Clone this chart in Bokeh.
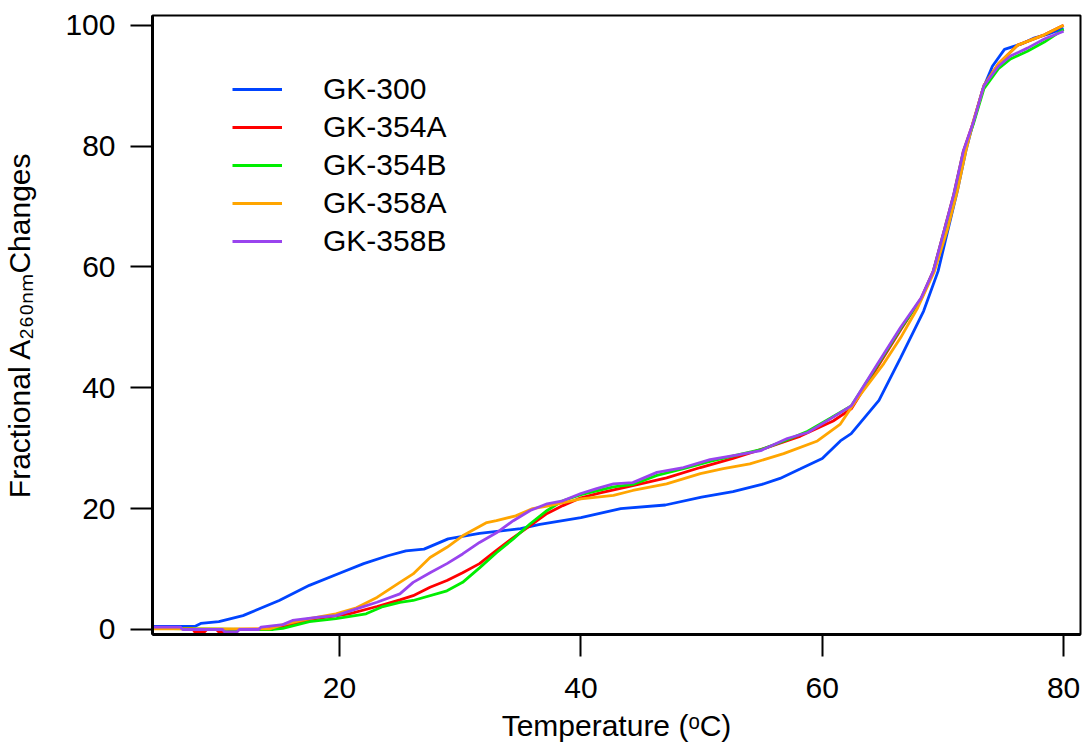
from bokeh.plotting import figure
from bokeh.models import Range1d, Legend, LegendItem, FixedTicker
from bokeh.embed import file_html
from bokeh.resources import INLINE

# ---------------- data ----------------
series_names = ["GK-300", "GK-354A", "GK-354B", "GK-358A", "GK-358B"]
series_colors = ["#0044ff", "#ff0000", "#00ee00", "#ffa500", "#9944ee"]

gk300_t = [4.6, 8.0, 8.5, 10, 12, 15, 17.5, 20, 22, 24, 25.5, 27, 29, 31.6, 35, 36.6,
           40, 43.3, 47, 50, 52.6, 55, 56.5, 58.2, 60, 61.5, 62.4, 64.7, 66.5, 68.4,
           69.6, 70.4, 71.2, 71.9, 72.5, 73.3, 74.1, 75.1, 76.5, 77.6, 78.7, 80]
gk300_v = [0.5, 0.5, 1.0, 1.3, 2.3, 4.8, 7.3, 9.3, 10.9, 12.2, 13.0, 13.3, 15.0, 15.9, 16.7, 17.4,
           18.5, 20.0, 20.6, 21.9, 22.8, 24.0, 25.0, 26.6, 28.3, 31.2, 32.4, 37.9, 45.0, 52.7,
           59.3, 66.0, 72.6, 79.2, 83.8, 89.4, 93.2, 96.0, 96.9, 97.9, 98.5, 99.5]

gk354a_t = [4.6, 7.8, 8.0, 8.8, 9.0, 9.8, 10.0, 10.8, 11.0, 14.0, 15.3, 18.1, 20.8, 23.1, 25,
            26.1, 27.5, 28.9, 30.2, 31.6, 33, 34.4, 35.8, 37.2, 38.5, 40, 41.6, 44.3, 47.1,
            49.9, 52.6, 55.4, 58.2, 60.9, 62.4, 64.6, 66.5, 68.2, 69.2, 70.1, 70.9, 71.7,
            72.5, 73.4, 74.6, 76.2, 78.4, 80]
gk354a_v = [0.2, 0.2, -0.4, -0.4, 0.0, 0.0, -0.4, -0.4, 0.0, 0.1, 0.5, 1.8, 2.6, 3.8, 4.9,
            5.6, 7.0, 8.1, 9.4, 10.9, 13.1, 15.2, 17.2, 19.2, 20.5, 21.8, 22.6, 23.8, 25.1,
            26.8, 28.3, 30.1, 32.0, 34.5, 36.5, 43.5, 49.6, 54.8, 59.3, 66.0, 72.0, 79.2,
            83.8, 90.0, 93.6, 96.7, 98.4, 100.0]

gk354b_t = [4.6, 12, 14.5, 15.3, 17.5, 19.7, 22.2, 23.6, 25, 26.1, 28.9, 30.2, 31.6, 33,
            34.4, 35.8, 37.2, 38.5, 40, 42.7, 44.3, 46.3, 48.5, 50.7, 53, 55, 57.1, 58.8,
            60.7, 62.4, 64.6, 66.5, 68.2, 69.2, 70.1, 70.9, 71.7, 72.5, 73.4, 74.6, 75.6,
            77, 78.4, 80]
gk354b_v = [0.2, 0.0, 0.0, 0.2, 1.3, 1.8, 2.6, 3.8, 4.5, 4.8, 6.4, 7.8, 10.2, 12.7,
            15.0, 17.5, 19.7, 21.3, 22.3, 23.6, 24.0, 25.5, 26.6, 27.8, 28.9, 29.8, 31.4, 32.8,
            35.0, 37.0, 43.8, 49.8, 54.7, 59.2, 65.8, 71.8, 79.0, 83.5, 89.5, 92.8, 94.4,
            95.7, 97.2, 99.3]

gk358a_t = [4.6, 14.2, 15.3, 17.5, 19.7, 21.4, 23.1, 25, 26.1, 27.5, 28.9, 30.2, 32.2, 33,
            34.6, 36.0, 37.2, 40, 42.7, 44.3, 47.1, 49.9, 51.8, 54, 56.8, 59.6, 61.5, 62.9,
            65.1, 66.5, 67.9, 69.3, 70.4, 71.2, 71.9, 72.5, 73.4, 74.6, 76.2, 78.4, 80]
gk358a_v = [0.1, 0.1, 0.8, 1.8, 2.6, 3.6, 5.3, 7.8, 9.2, 11.9, 13.6, 15.5, 17.7, 18.0,
            18.8, 20.0, 20.4, 21.6, 22.2, 23.0, 24.1, 25.8, 26.6, 27.4, 29.1, 31.2, 34.0, 38.2,
            44.0, 48.3, 53.2, 59.3, 66.4, 72.6, 79.2, 84.0, 90.0, 93.6, 96.7, 98.4, 100.0]

gk358b_t = [4.6, 6.8, 7.0, 10.3, 10.5, 11.5, 11.7, 13.3, 13.5, 15.3, 16.1, 18.1, 19.7, 21.4,
            23.1, 25, 26.1, 27.5, 28.9, 30.2, 31.6, 33, 34.4, 35.8, 37.2, 38.5, 40, 41.3,
            42.7, 44.3, 46.3, 48.5, 50.7, 53, 54.9, 57.1, 58.8, 60.7, 62.4, 64.6, 66.5, 68.2,
            69.2, 70.1, 70.9, 71.7, 72.5, 73.4, 74.6, 75.6, 77, 78.4, 80]
gk358b_v = [0.4, 0.4, 0.0, 0.0, -0.4, -0.4, 0.0, 0.0, 0.4, 0.8, 1.5, 2.0, 2.3, 3.4,
            4.5, 5.9, 7.8, 9.4, 10.9, 12.5, 14.4, 16.0, 18.0, 19.7, 20.8, 21.3, 22.5, 23.3,
            24.1, 24.3, 26.0, 26.8, 28.1, 28.9, 29.6, 31.6, 32.6, 34.9, 37.0, 44.0, 50.0, 54.9,
            59.3, 66.0, 72.0, 79.2, 83.8, 90.0, 93.2, 94.9, 96.2, 97.7, 99.0]

x_ticks = [20, 40, 60, 80]
y_ticks = [0, 20, 40, 60, 80, 100]
x_title = "Temperature (\u1d52C)"
y_title = "Fractional A\u2082\u2086\u2080\u2099\u2098Changes"

series_t = [gk300_t, gk354a_t, gk354b_t, gk358a_t, gk358b_t]
series_v = [gk300_v, gk354a_v, gk354b_v, gk358a_v, gk358b_v]

# ---------------- layout ----------------
X0, X1 = 4.5, 81.4
Y0, Y1 = -0.83, 101.6
FONT = "Liberation Sans"

p = figure(frame_width=928, frame_height=619,
           min_border_left=152, min_border_top=15, min_border_right=4, min_border_bottom=117,
           x_range=Range1d(X0, X1), y_range=Range1d(Y0, Y1),
           output_backend="svg", toolbar_location=None)
p.background_fill_color = "white"
p.border_fill_color = "white"
p.outline_line_color = "black"
p.outline_line_width = 2
p.xgrid.visible = False
p.ygrid.visible = False

for ax in (p.xaxis[0], p.yaxis[0]):
    ax.axis_line_width = 3
    ax.axis_line_color = "black"
    ax.major_tick_line_width = 2
    ax.major_tick_line_color = "black"
    ax.major_tick_in = 0
    ax.major_tick_out = 22
    ax.minor_tick_line_color = None
    ax.major_label_text_font = FONT
    ax.major_label_text_font_size = "30px"
    ax.major_label_text_color = "black"
    ax.axis_label_text_font = FONT
    ax.axis_label_text_font_size = "30px"
    ax.axis_label_text_font_style = "normal"
    ax.axis_label_text_color = "black"
p.xaxis[0].ticker = FixedTicker(ticks=x_ticks)
p.yaxis[0].ticker = FixedTicker(ticks=y_ticks)
p.xaxis[0].major_label_standoff = 21
p.yaxis[0].major_label_standoff = 15
p.xaxis[0].axis_label = x_title
p.yaxis[0].axis_label = y_title
p.xaxis[0].axis_label_standoff = 8
p.yaxis[0].axis_label_standoff = 26

renderers = []
for t, v, c in zip(series_t, series_v, series_colors):
    r = p.line(t, v, line_color=c, line_width=2.8)
    renderers.append(r)

items = [LegendItem(label=n, renderers=[r]) for n, r in zip(series_names, renderers)]
legend = Legend(items=items, location=(80, 376), orientation="vertical",
                glyph_width=50, glyph_height=20, label_height=20, label_standoff=41,
                spacing=4, padding=0, margin=0,
                label_text_font=FONT, label_text_font_size="30px", label_text_color="black",
                border_line_alpha=0, background_fill_alpha=0)
p.add_layout(legend)

open("out.html", "w").write(file_html(p, INLINE))
